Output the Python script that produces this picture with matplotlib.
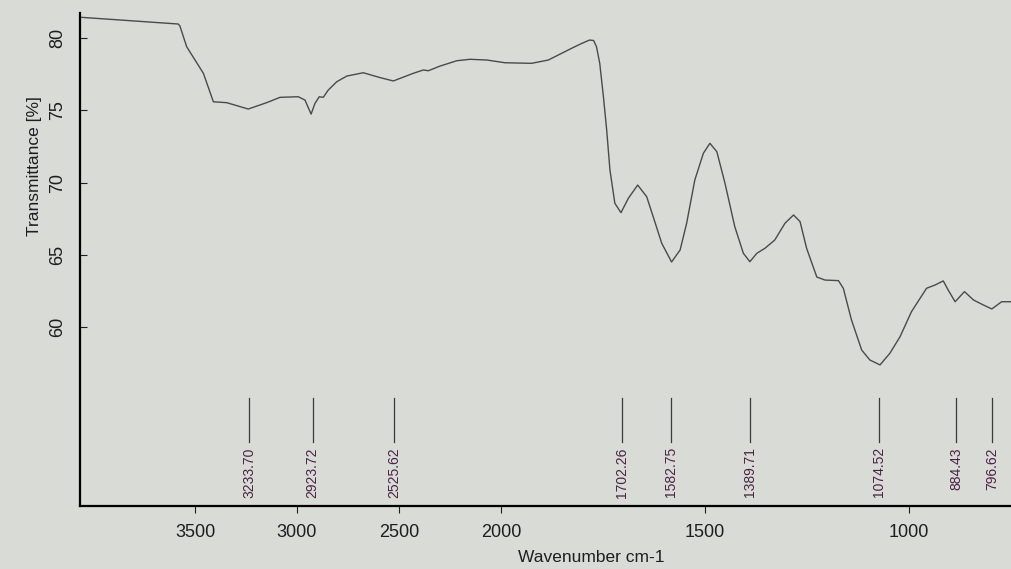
import numpy as np
import matplotlib
matplotlib.use("Agg")
import matplotlib.pyplot as plt

# IR spectrum (photo of an OPUS printout)
wavenumber = [4055, 3582, 3574, 3541, 3459, 3410, 3345, 3239, 3149, 3083,
              2994, 2961, 2931, 2912, 2891, 2871, 2847, 2805, 2756, 2675,
              2597, 2528, 2430, 2381, 2356, 2299, 2217, 2152, 2070, 1990,
              1925, 1884, 1827, 1802, 1783, 1773, 1766, 1758, 1749, 1741,
              1733, 1721, 1706, 1688, 1665, 1643, 1627, 1606, 1582, 1561,
              1545, 1525, 1504, 1488, 1471, 1451, 1427, 1406, 1390, 1373,
              1353, 1329, 1304, 1283, 1267, 1251, 1226, 1206, 1173, 1161,
              1141, 1116, 1096, 1071, 1047, 1022, 994, 957, 936, 916,
              904, 887, 864, 842, 818, 797, 773, 746]
transmittance = [81.43, 80.97, 80.83, 79.40, 77.56, 75.59, 75.53, 75.09, 75.53, 75.90,
                 75.94, 75.71, 74.74, 75.48, 75.94, 75.90, 76.40, 76.98, 77.37, 77.60,
                 77.28, 77.03, 77.56, 77.79, 77.74, 78.06, 78.43, 78.53, 78.48, 78.29,
                 78.25, 78.48, 79.29, 79.63, 79.86, 79.83, 79.40, 78.25, 75.94, 73.64,
                 70.87, 68.57, 67.92, 68.91, 69.83, 69.03, 67.64, 65.80, 64.51, 65.34,
                 67.19, 70.18, 72.03, 72.72, 72.14, 69.95, 66.95, 65.11, 64.53, 65.11,
                 65.46, 66.03, 67.19, 67.76, 67.30, 65.46, 63.47, 63.26, 63.22, 62.69,
                 60.50, 58.42, 57.73, 57.39, 58.19, 59.34, 61.07, 62.69, 62.92, 63.20,
                 62.57, 61.76, 62.46, 61.88, 61.54, 61.26, 61.76, 61.76]

peaks = [3233.70, 2923.72, 2525.62, 1702.26, 1582.75, 1389.71, 1074.52, 884.43, 796.62]

x_ticks = [3500, 3000, 2500, 2000, 1500, 1000]
y_ticks = [60, 65, 70, 75, 80]

plt.rcParams['font.family'] = ['Liberation Sans', 'DejaVu Sans']

paper = '#d9dbd7'


# x axis is stretched 2x below 2000 cm-1 (like the printout)
def fwd(w):
    w = np.asarray(w, dtype=float)
    return np.where(w >= 2000, w, 2 * w - 2000)


def inv(u):
    u = np.asarray(u, dtype=float)
    return np.where(u >= 2000, u, (u + 2000) / 2)


fig = plt.figure(figsize=(10.11, 5.69), dpi=100)
fig.patch.set_facecolor(paper)
ax = fig.add_axes([0.0791, 0.1107, 0.9209, 0.8664])
ax.set_facecolor(paper)

ax.set_xscale('function', functions=(fwd, inv))
ax.plot(wavenumber, transmittance, color='#4a4a4a', lw=1.0)

# peak markers
for p in peaks:
    ax.plot([p, p], [52.06, 55.10], color='#3a3a3a', lw=0.9)
    ax.text(p, 51.7, f"{p:.2f}", rotation=90, ha='center', va='top',
            fontsize=10, color='#4b2245')

ax.set_xlim(4064, 750)
ax.set_ylim(47.63, 81.73)

ax.set_xticks(x_ticks)
ax.set_xticklabels([str(t) for t in x_ticks])
ax.set_yticks(y_ticks)
ax.set_yticklabels([str(t) for t in y_ticks], rotation=90, va='center')
ax.minorticks_off()

ax.tick_params(axis='x', direction='out', length=5, width=0.8, pad=8,
               labelsize=13, colors='#1e1e1e')
ax.tick_params(axis='y', direction='in', length=5, width=0.8, pad=10,
               labelsize=13, colors='#1e1e1e')

ax.spines['top'].set_visible(False)
ax.spines['right'].set_visible(False)
ax.spines['left'].set_linewidth(1.6)
ax.spines['bottom'].set_linewidth(1.6)

ax.set_xlabel('Wavenumber cm-1', fontsize=12.5, color='#1e1e1e')
ax.xaxis.set_label_coords(0.549, -0.089)
ax.set_ylabel('Transmittance [%]', fontsize=12.5, color='#1e1e1e')
ax.yaxis.set_label_coords(-0.041, 0.69)

fig.savefig('out.png', dpi=100, facecolor=fig.get_facecolor())
